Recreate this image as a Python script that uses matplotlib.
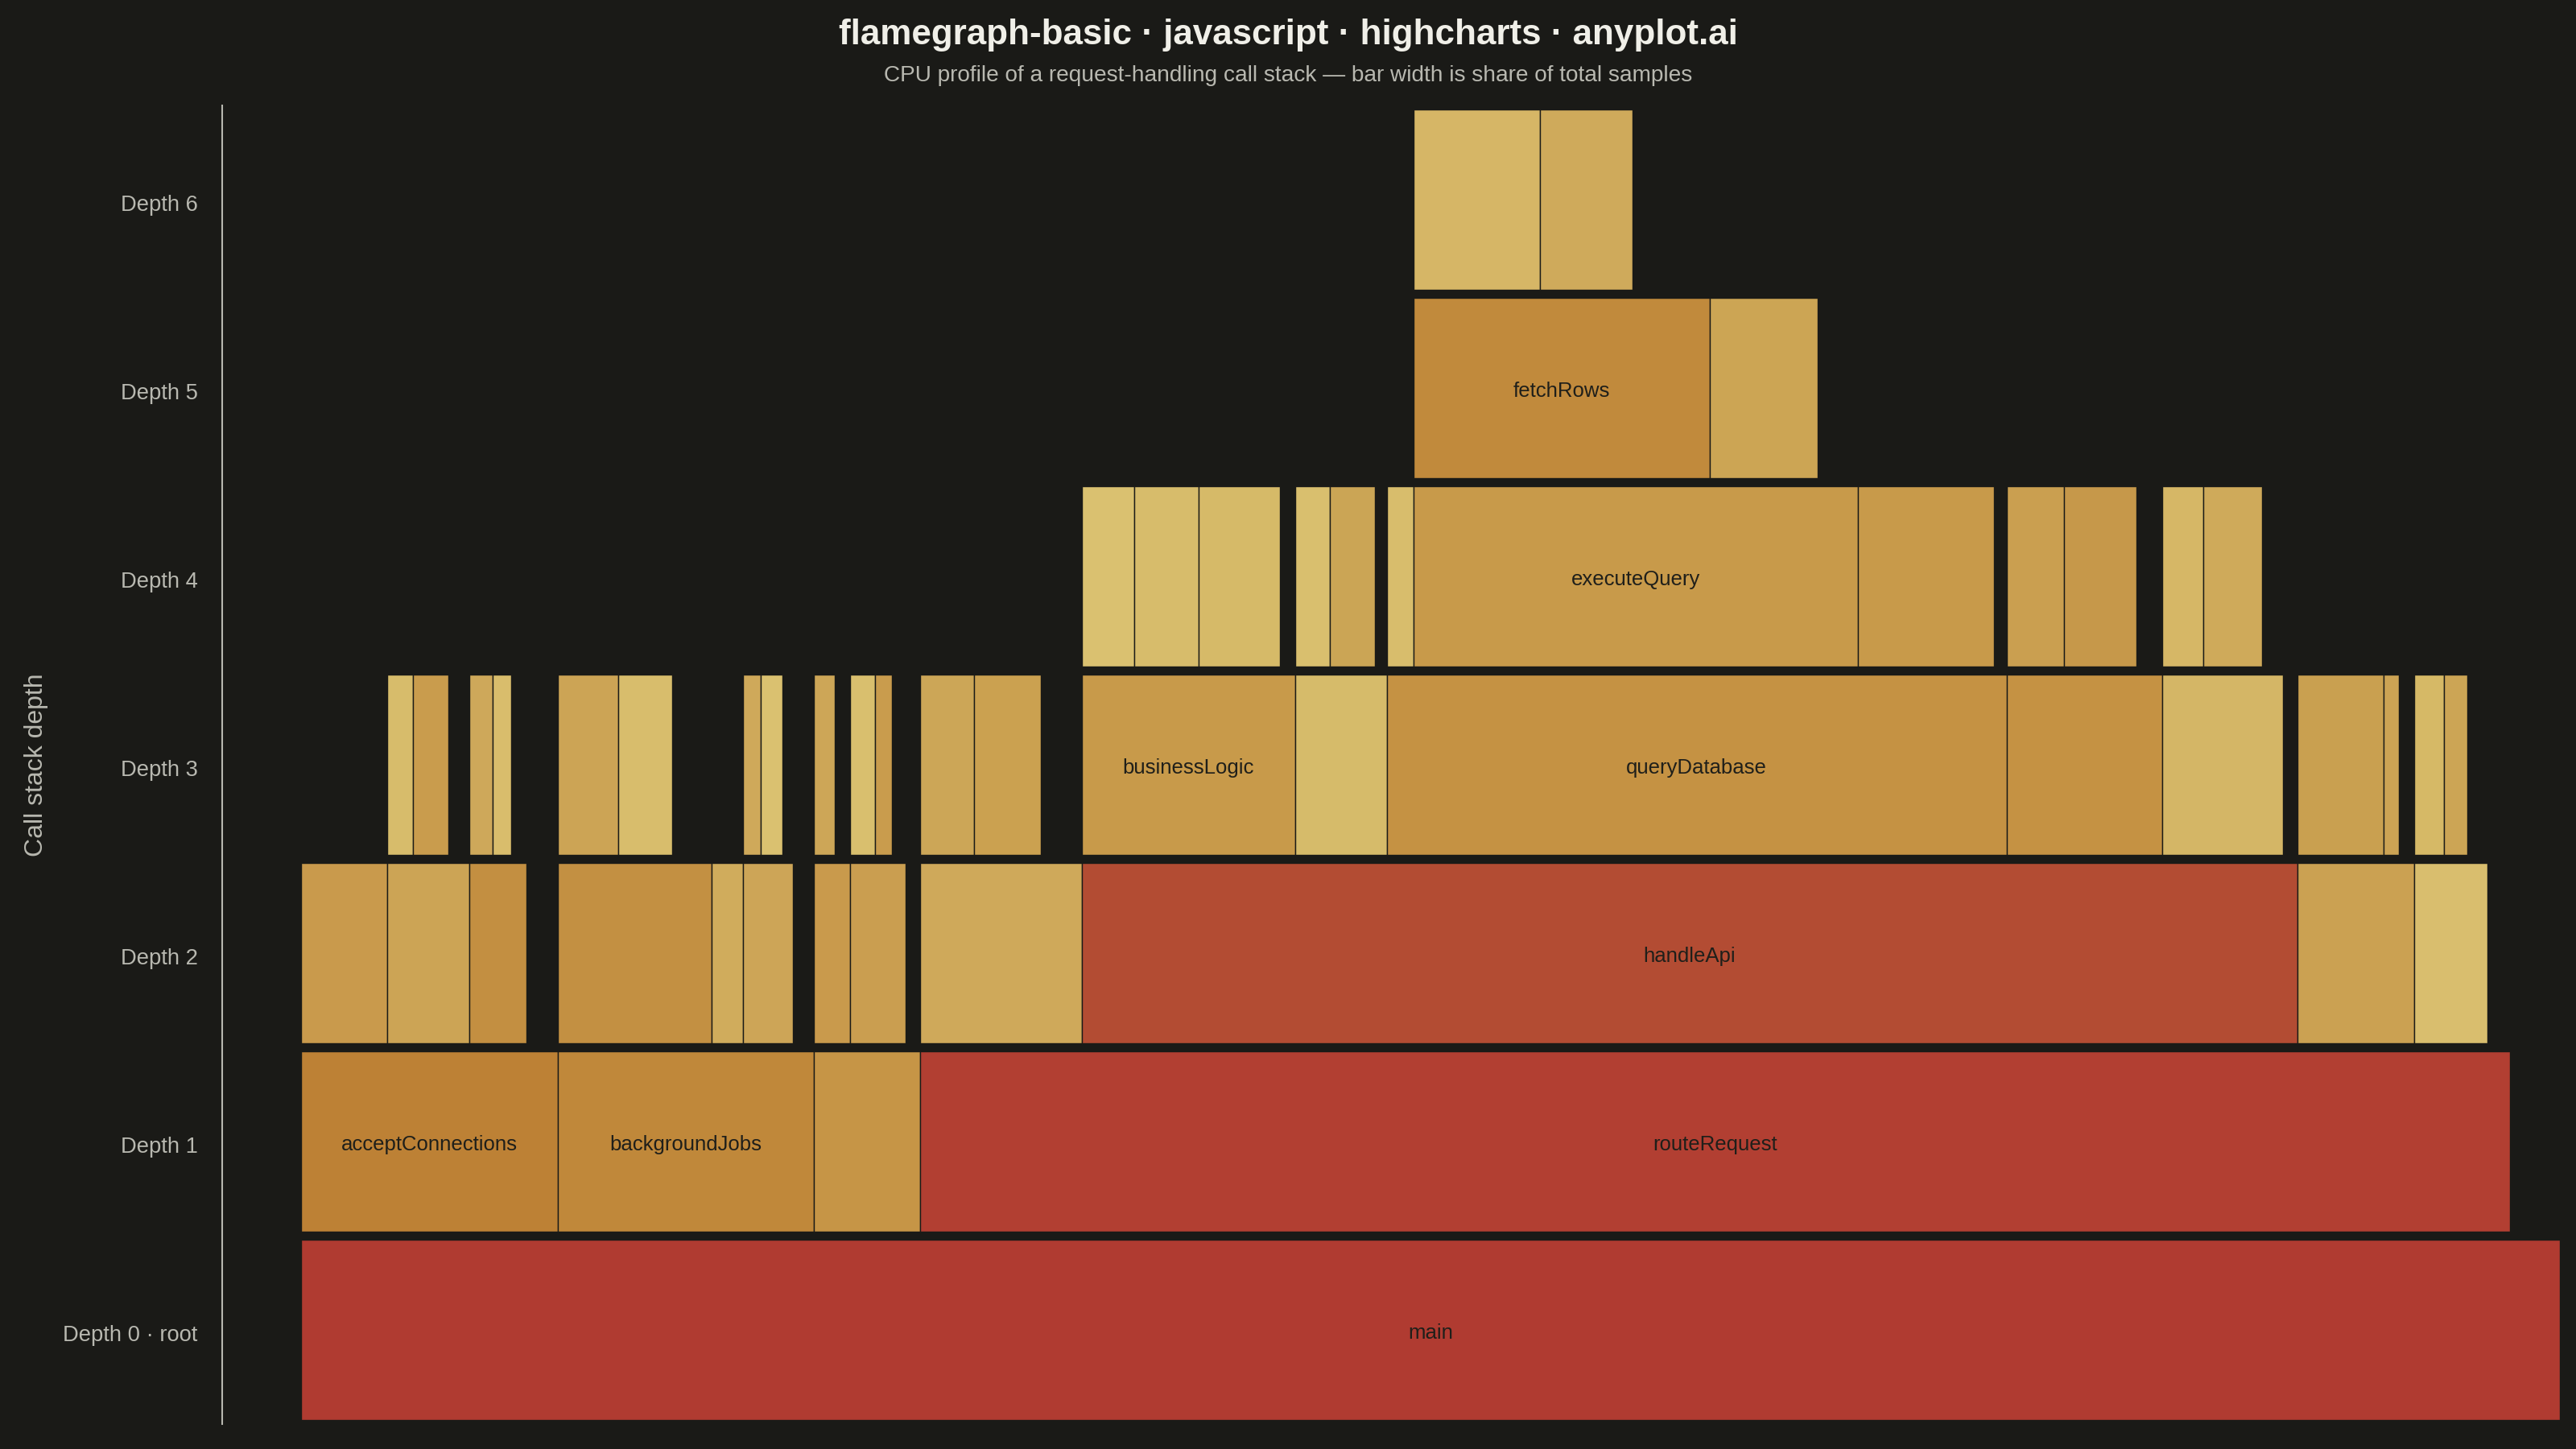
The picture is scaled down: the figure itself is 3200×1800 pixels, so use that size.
import numpy as np
import matplotlib
matplotlib.use("Agg")
import matplotlib.pyplot as plt
import matplotlib.transforms as mtransforms

# ---------------------------------------------------------------
# Data: one entry per stack frame (parent index, samples, colour)
# children are packed left-to-right inside their parent
# ---------------------------------------------------------------
frame_names = [
    "main",
    "acceptConnections", "backgroundJobs", "scheduleTimers", "routeRequest",
    "tlsHandshake", "parseHeaders", "keepAlive",
    "flushMetrics", "rotateLogs", "refreshCache",
    "runTimers", "gcIdle",
    "authenticate", "handleApi", "serveStatic", "renderError",
    "readSocket", "decodeHeader", "pingPeer", "setTimeout",
    "serializeStats", "sendStats", "loadKeys", "warmEntries",
    "fireCallbacks", "compactHeap", "sweep",
    "verifyToken", "loadSession",
    "businessLogic", "validateInput", "queryDatabase", "serializeJson", "writeResponse",
    "readFile", "setHeaders", "formatError", "logError",
    "applyRules", "computePricing", "buildModel",
    "parseSchema", "checkTypes",
    "acquireConnection", "executeQuery", "mapRows",
    "stringify", "escapeStrings", "compress", "socketWrite",
    "fetchRows", "buildPlan",
    "decodeRow", "awaitIO",
]

frame_parents = [
    -1,
    0, 0, 0, 0,
    1, 1, 1,
    2, 2, 2,
    3, 3,
    4, 4, 4, 4,
    6, 6, 7, 7,
    8, 8, 10, 10,
    11, 12, 12,
    13, 13,
    14, 14, 14, 14, 14,
    15, 15, 16, 16,
    30, 30, 30,
    31, 31,
    32, 32, 32,
    33, 33, 34, 34,
    45, 45,
    51, 51,
]

frame_samples = [
    1000.0,
    113.7, 113.3, 47.0, 703.8,
    38.1, 36.4, 25.3,
    68.1, 13.7, 22.3,
    16.2, 24.4,
    71.6, 538.3, 51.5, 32.4,
    11.4, 15.7, 10.3, 8.2,
    26.7, 23.9, 8.0, 9.8,
    9.3, 11.0, 7.5,
    23.9, 29.6,
    94.4, 40.6, 274.4, 68.8, 53.5,
    38.1, 6.8, 13.2, 10.3,
    23.2, 28.5, 36.0,
    15.3, 20.3,
    11.8, 196.7, 60.2,
    25.3, 32.4, 18.2, 26.0,
    131.3, 47.6,
    56.0, 41.0,
]

frame_colors = [
    "#B03B31",
    "#BD8135", "#C0883A", "#C69546", "#B23F32",
    "#C99A4C", "#CCA455", "#C38F41",
    "#C39042", "#D0AC5C", "#CDA557",
    "#C99A4C", "#CA9E50",
    "#CFA95A", "#B34C33", "#CBA152", "#D9BE6E",
    "#D7BC6B", "#C99C4D", "#CEA85A", "#D9BD6C",
    "#CCA455", "#D8BD6C", "#CFA95A", "#DAC170",
    "#CDA657", "#D9BF6E", "#C99C4D",
    "#CCA657", "#CBA150",
    "#C89A4A", "#D6BB6A", "#C59243", "#C59243", "#D4B666",
    "#C9A050", "#CCA354", "#D6B966", "#CCA555",
    "#DAC170", "#D7BC6B", "#D6BA68",
    "#D9BF6E", "#CBA555",
    "#D8BD6C", "#C89A4A", "#C89A4A",
    "#CA9F50", "#C6984A", "#D6B766", "#CFAA5A",
    "#C18A3C", "#CCA554",
    "#D6B666", "#CFAA5B",
]

depth_labels = ["Depth 0 · root", "Depth 1", "Depth 2", "Depth 3",
                "Depth 4", "Depth 5", "Depth 6"]

label_min_samples = 80   # narrower frames get no name drawn

# ---------------------------------------------------------------
# Layout: depth from parent chain, start = parent start + earlier siblings
# ---------------------------------------------------------------
n = len(frame_names)
depth = np.zeros(n, dtype=int)
start = np.zeros(n)
cursor = {}
for i, p in enumerate(frame_parents):
    if p < 0:
        depth[i] = 0
        start[i] = 0.0
    else:
        depth[i] = depth[p] + 1
        start[i] = start[p] + cursor.get(p, 0.0)
        cursor[p] = cursor.get(p, 0.0) + frame_samples[i]

BG = "#1A1A17"
plt.rcParams["font.family"] = ["Liberation Sans", "DejaVu Sans"]

fig = plt.figure(figsize=(32, 18), dpi=100, facecolor=BG)
ax = fig.add_axes([276 / 3200, 31 / 1800, 2904 / 3200, 1638 / 1800])
ax.set_facecolor(BG)

ax.barh(depth, frame_samples, left=start, height=0.957,
        color=frame_colors, edgecolor=BG, linewidth=1.0)

# nudge text a few pixels down so it sits optically centred
nudge = mtransforms.ScaledTranslation(0, -4 / 100, fig.dpi_scale_trans)

for i in range(n):
    if frame_samples[i] >= label_min_samples:
        ax.text(start[i] + frame_samples[i] / 2, depth[i], frame_names[i],
                ha="center", va="center", fontsize=18.5, color="#1F1F1A",
                transform=ax.transData + nudge)

total = frame_samples[0]
ax.set_xlim(-0.0349 * total, total)
ax.set_ylim(-0.5, 6.5)

ax.set_yticks(range(len(depth_labels)))
ax.set_yticklabels(depth_labels, fontsize=19.7, color="#B8B8B0")
ax.tick_params(axis="y", length=0, pad=22)
for lbl in ax.get_yticklabels():
    lbl.set_transform(lbl.get_transform() + nudge)
ax.set_xticks([])

for side in ["top", "right", "bottom"]:
    ax.spines[side].set_visible(False)
ax.spines["left"].set_color("#B8B8B0")
ax.spines["left"].set_linewidth(1.5)

fig.text(45 / 3200, 1 - 950 / 1800, "Call stack depth", rotation=90,
         ha="center", va="center", fontsize=23, color="#B8B8B0")

fig.text(0.5, 1 - 43 / 1800,
         "flamegraph-basic · javascript · highcharts · anyplot.ai",
         ha="center", va="center", fontsize=31.7, fontweight="bold",
         color="#F0EFE8")
fig.text(0.5, 1 - 94 / 1800,
         "CPU profile of a request-handling call stack — bar width is share of total samples",
         ha="center", va="center", fontsize=20.2, color="#B8B8B0")

fig.savefig("out.png", dpi=100, facecolor=BG)
